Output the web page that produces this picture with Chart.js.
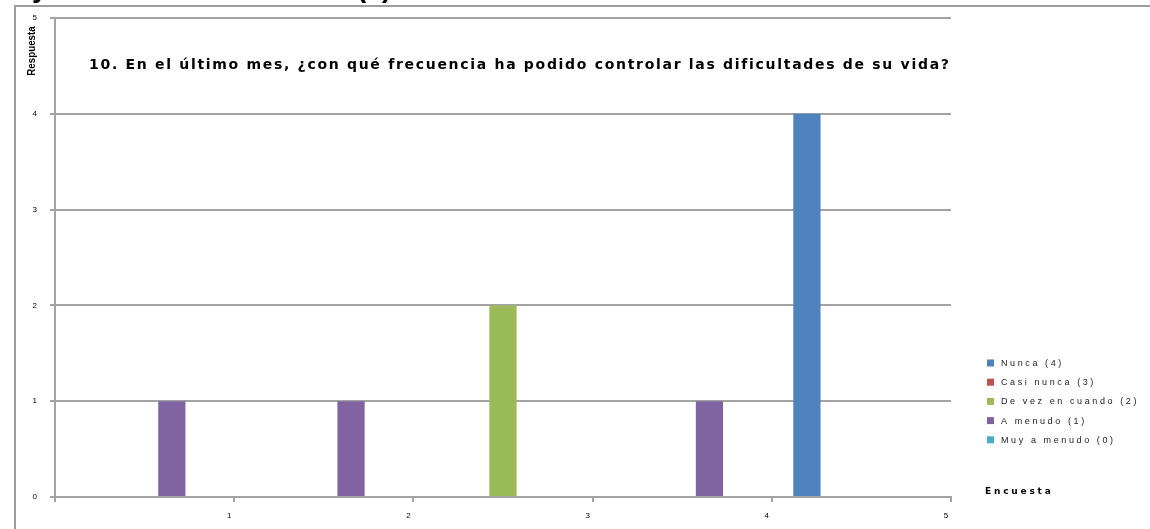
<!DOCTYPE html>
<html>
<head>
<meta charset="utf-8">
<script src="https://cdn.jsdelivr.net/npm/chart.js@4/dist/chart.umd.min.js"></script>
<style>
  html, body { margin: 0; padding: 0; background: #fff; }
  canvas { display: block; }
</style>
</head>
<body>
<canvas id="c" width="1150" height="529"></canvas>
<script>
// Encuestas (respondents) along the horizontal axis
const encuestas = ['1', '2', '3', '4', '5'];

// Answer options (series) and their colours
const seriesNames = ['Nunca (4)', 'Casi nunca (3)', 'De vez en cuando (2)', 'A menudo (1)', 'Muy a menudo (0)'];
const seriesColors = ['#4F81BD', '#C0504D', '#9BBB59', '#8064A2', '#4BACC6'];

// Answer value per respondent, one array per option
const nunca         = [0, 0, 0, 0, 4];
const casiNunca     = [0, 0, 0, 0, 0];
const deVezEnCuando = [0, 0, 2, 0, 0];
const aMenudo       = [1, 1, 0, 1, 0];
const muyAMenudo    = [0, 0, 0, 0, 0];

// Axis ticks
const yTicks = [0, 1, 2, 3, 4, 5];
const xTicks = [1, 2, 3, 4, 5];

// Texts
const chartTitle = '10. En el último mes, ¿con qué frecuencia ha podido controlar las dificultades de su vida?';
const yTitle = 'Respuesta';
const xTitle = 'Encuesta';
const headingTail = ['y', '(1)'];

const seriesValues = [nunca, casiNunca, deVezEnCuando, aMenudo, muyAMenudo];
const GRID = '#a3a3a3';

const datasets = seriesNames.map((name, i) => ({
  label: name,
  data: seriesValues[i],
  backgroundColor: seriesColors[i],
  borderWidth: 0,
  barPercentage: 1.0,
  categoryPercentage: 0.76,
  xAxisID: 'x',
  yAxisID: 'y'
}));

// Frame, title, axis titles and legend drawn on top of the chart
const decor = {
  id: 'decor',
  afterDraw(chart) {
    const ctx = chart.ctx;
    ctx.save();

    // tail of the document heading cut off by the frame
    ctx.fillStyle = '#000';
    ctx.font = 'bold 28px "Liberation Sans"';
    ctx.textBaseline = 'alphabetic';
    ctx.textAlign = 'left';
    ctx.fillText(headingTail[0], 32, -3);
    ctx.fillText(headingTail[1], 357, -3);

    // outer frame
    ctx.strokeStyle = '#9c9c9c';
    ctx.lineWidth = 2;
    ctx.beginPath();
    ctx.moveTo(14, 6);
    ctx.lineTo(1150, 6);
    ctx.moveTo(15, 5);
    ctx.lineTo(15, 529);
    ctx.stroke();

    // chart title inside the plot
    ctx.fillStyle = '#000';
    ctx.font = 'bold 14px "DejaVu Sans"';
    ctx.letterSpacing = '1.7px';
    ctx.textAlign = 'left';
    ctx.textBaseline = 'alphabetic';
    ctx.fillText(chartTitle, 89, 69);

    // vertical axis title
    ctx.letterSpacing = '0px';
    ctx.save();
    ctx.translate(32, 51);
    ctx.rotate(-Math.PI / 2);
    ctx.scale(0.85, 1);
    ctx.font = 'bold 11.5px "Liberation Sans"';
    ctx.textAlign = 'center';
    ctx.textBaseline = 'middle';
    ctx.fillText(yTitle, 0, 0);
    ctx.restore();

    // horizontal axis title
    ctx.font = 'bold 9px "DejaVu Sans"';
    ctx.letterSpacing = '2.8px';
    ctx.textAlign = 'left';
    ctx.textBaseline = 'middle';
    ctx.fillText(xTitle, 985, 492);

    // legend
    ctx.font = '9px "Liberation Sans"';
    ctx.letterSpacing = '2.6px';
    chart.data.datasets.forEach((ds, i) => {
      const y = 363 + i * 19.2;
      ctx.fillStyle = ds.backgroundColor;
      ctx.fillRect(987, y - 3.5, 7, 7);
      ctx.fillStyle = '#222';
      ctx.fillText(ds.label, 1001, y + 0.5);
    });

    ctx.restore();
  }
};

Chart.defaults.font.family = '"Liberation Sans", "DejaVu Sans", sans-serif';
Chart.defaults.color = '#000';

new Chart(document.getElementById('c'), {
  type: 'bar',
  data: { labels: encuestas, datasets },
  options: {
    responsive: false,
    animation: false,
    devicePixelRatio: 1,
    layout: { padding: { left: 14, top: 18, right: 199, bottom: 0 } },
    plugins: {
      legend: { display: false },
      title: { display: false },
      tooltip: { enabled: false }
    },
    scales: {
      x: {
        type: 'category',
        display: false,
        offset: true
      },
      xTicks: {
        type: 'linear',
        position: 'bottom',
        min: 0,
        max: 5,
        offset: false,
        afterBuildTicks(scale) {
          scale.ticks = [0].concat(xTicks).map(v => ({ value: v }));
        },
        afterFit(scale) { scale.height = 32; },
        ticks: {
          font: { size: 8 },
          padding: 9,
          labelOffset: -5,
          maxRotation: 0,
          callback: v => (xTicks.includes(v) ? String(v) : '')
        },
        grid: { offset: false, drawOnChartArea: false, drawTicks: true, tickLength: 5, color: GRID, lineWidth: 2 },
        border: { display: true, color: GRID, width: 2 }
      },
      y: {
        type: 'linear',
        min: 0,
        max: 5,
        afterBuildTicks(scale) {
          scale.ticks = yTicks.map(v => ({ value: v }));
        },
        afterFit(scale) { scale.width = 41; },
        ticks: { font: { size: 8 }, padding: 13 },
        grid: { color: GRID, lineWidth: 2, tickLength: 5 },
        border: { display: true, color: GRID, width: 2 }
      }
    }
  },
  plugins: [decor]
});
</script>
</body>
</html>
